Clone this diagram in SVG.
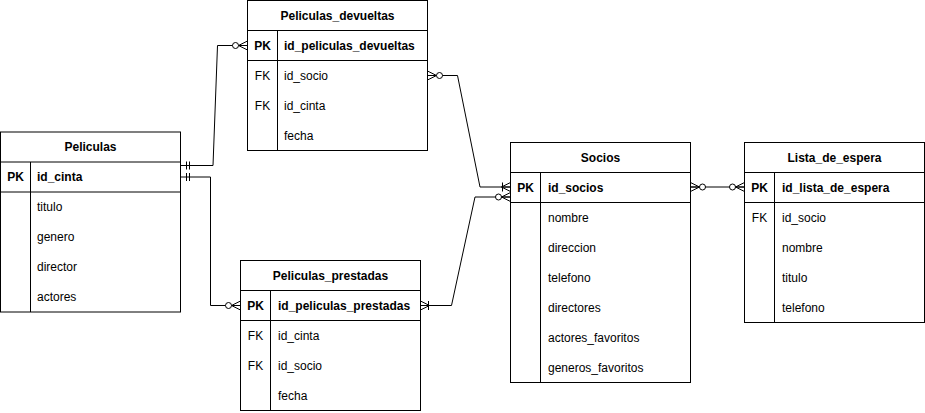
<svg xmlns="http://www.w3.org/2000/svg" width="925" height="413" viewBox="0 0 925 413">
<style>
.box{fill:#fff;stroke:#000;stroke-width:1}
.ln{stroke:#000;stroke-width:1;fill:none}
text{font-family:"Liberation Sans",Arial,sans-serif;font-size:12px;fill:#000;dominant-baseline:central}
.h{font-weight:bold;text-anchor:middle}
.k{text-anchor:middle}
.b{font-weight:bold}
.conn{stroke:#000;stroke-width:1;fill:none}
</style>
<defs>
<marker id="mandOne" markerUnits="userSpaceOnUse" orient="auto-start-reverse" refX="0" refY="0" markerWidth="20" markerHeight="20" overflow="visible">
<path d="M-6,-4V4M-9,-4V4" stroke="#000" stroke-width="1" fill="none"/>
</marker>
<marker id="zeroMany" markerUnits="userSpaceOnUse" orient="auto-start-reverse" refX="0" refY="0" markerWidth="20" markerHeight="20" overflow="visible">
<path d="M0,-4.5L-9,0L0,4.5M0,0H-9" stroke="#000" stroke-width="1" fill="none"/>
<circle cx="-12" cy="0" r="3" fill="#fff" stroke="#000" stroke-width="1"/>
</marker>
<marker id="oneMany" markerUnits="userSpaceOnUse" orient="auto-start-reverse" refX="0" refY="0" markerWidth="20" markerHeight="20" overflow="visible">
<path d="M0,-4.5L-9,0L0,4.5M0,0H-9M-8,-4.5V4.5" stroke="#000" stroke-width="1" fill="none"/>
</marker>
</defs>

<g id="connectors">
<path class="conn" d="M180.5,165.5H213L217.5,45.5H247.5" marker-start="url(#mandOne)" marker-end="url(#zeroMany)"/>
<path class="conn" d="M180.5,177H210.5V305.5H240.5" marker-start="url(#mandOne)" marker-end="url(#zeroMany)"/>
<path class="conn" d="M427.5,75.5H457.5L480,187H510.5" marker-start="url(#zeroMany)" marker-end="url(#oneMany)"/>
<path class="conn" d="M690.5,187H744.5" marker-start="url(#zeroMany)" marker-end="url(#zeroMany)"/>
<path class="conn" d="M510.5,197H475L451.5,305.5H420.5" marker-start="url(#zeroMany)" marker-end="url(#oneMany)"/>
</g>

<g id="Peliculas">
<rect class="box" x="0.5" y="132" width="180" height="180"/>
<path class="ln" d="M0.5,162H180.5M0.5,192H180.5M30.5,162V312"/>
<text class="h" x="90.5" y="147">Peliculas</text>
<text class="h" x="15.5" y="177">PK</text>
<text class="b" x="37" y="177">id_cinta</text>
<text x="37" y="207">titulo</text>
<text x="37" y="237">genero</text>
<text x="37" y="267">director</text>
<text x="37" y="297">actores</text>
</g>

<g id="Peliculas_devueltas">
<rect class="box" x="247.5" y="0.5" width="180" height="150"/>
<path class="ln" d="M247.5,30.5H427.5M247.5,60.5H427.5M277.5,30.5V150.5"/>
<text class="h" x="337.5" y="15.5">Peliculas_devueltas</text>
<text class="h" x="262.5" y="45.5">PK</text>
<text class="b" x="284" y="45.5">id_peliculas_devueltas</text>
<text class="k" x="262.5" y="75.5">FK</text>
<text x="284" y="75.5">id_socio</text>
<text class="k" x="262.5" y="105.5">FK</text>
<text x="284" y="105.5">id_cinta</text>
<text x="284" y="135.5">fecha</text>
</g>

<g id="Peliculas_prestadas">
<rect class="box" x="240.5" y="260.5" width="180" height="150"/>
<path class="ln" d="M240.5,290.5H420.5M240.5,320.5H420.5M270.5,290.5V410.5"/>
<text class="h" x="330.5" y="275.5">Peliculas_prestadas</text>
<text class="h" x="255.5" y="305.5">PK</text>
<text class="b" x="278" y="305.5">id_peliculas_prestadas</text>
<text class="k" x="255.5" y="335.5">FK</text>
<text x="278" y="335.5">id_cinta</text>
<text class="k" x="255.5" y="365.5">FK</text>
<text x="278" y="365.5">id_socio</text>
<text x="278" y="395.5">fecha</text>
</g>

<g id="Socios">
<rect class="box" x="510.5" y="142.5" width="180" height="240"/>
<path class="ln" d="M510.5,172.5H690.5M510.5,202.5H690.5M540.5,172.5V382.5"/>
<text class="h" x="600.5" y="157.5">Socios</text>
<text class="h" x="525.5" y="187.5">PK</text>
<text class="b" x="548" y="187.5">id_socios</text>
<text x="548" y="217.5">nombre</text>
<text x="548" y="247.5">direccion</text>
<text x="548" y="277.5">telefono</text>
<text x="548" y="307.5">directores</text>
<text x="548" y="337.5">actores_favoritos</text>
<text x="548" y="367.5">generos_favoritos</text>
</g>

<g id="Lista_de_espera">
<rect class="box" x="744.5" y="142.5" width="180" height="180"/>
<path class="ln" d="M744.5,172.5H924.5M744.5,202.5H924.5M774.5,172.5V322.5"/>
<text class="h" x="834.5" y="157.5">Lista_de_espera</text>
<text class="h" x="759.5" y="187.5">PK</text>
<text class="b" x="782" y="187.5">id_lista_de_espera</text>
<text class="k" x="759.5" y="217.5">FK</text>
<text x="782" y="217.5">id_socio</text>
<text x="782" y="247.5">nombre</text>
<text x="782" y="277.5">titulo</text>
<text x="782" y="307.5">telefono</text>
</g>
</svg>
